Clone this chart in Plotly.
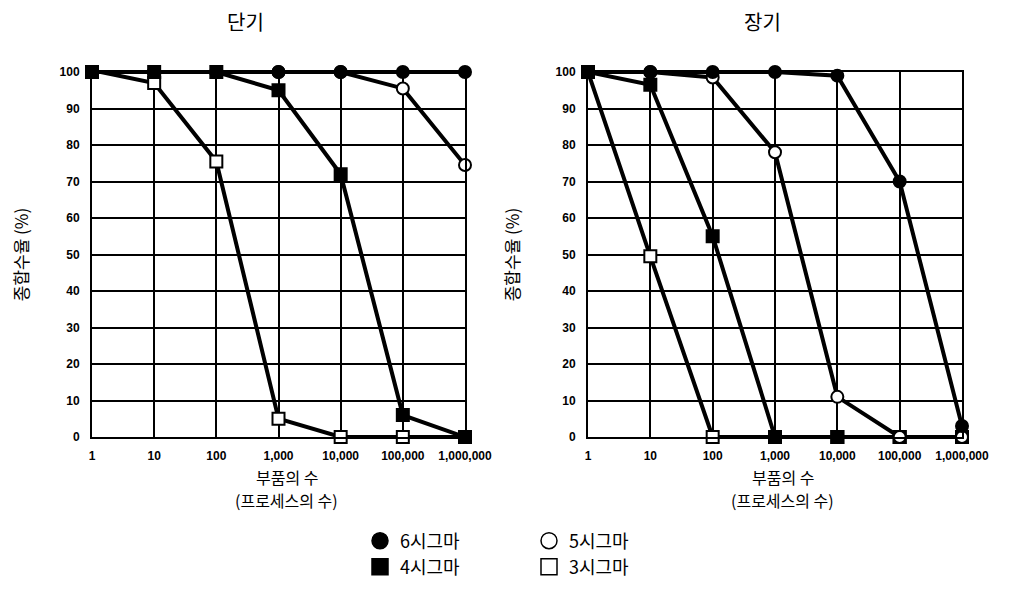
import plotly.graph_objects as go

# ---- data ----
parts = [1, 10, 100, 1000, 10000, 100000, 1000000]
tick_labels = ["1", "10", "100", "1,000", "10,000", "100,000", "1,000,000"]
y_ticks = [0, 10, 20, 30, 40, 50, 60, 70, 80, 90, 100]

series_names = ["6시그마", "5시그마", "4시그마", "3시그마"]

# 단기 (short term)
short_6s = [100, 100, 100, 100, 100, 100, 100]
short_5s = [100, 100, 100, 100, 100, 95.5, 74.5]
short_4s = [100, 100, 100, 95, 72, 6, 0]
short_3s = [100.5, 97, 75.5, 5, 0, 0, 0]

# 장기 (long term)
long_6s = [100, 100, 100, 100, 99, 70, 3]
long_5s = [100, 100, 98.5, 78, 11, 0, 0]
long_4s = [100, 96.5, 55, 0, 0, 0, 0]
long_3s = [100, 49.5, 0, 0, 0, 0, -0.5]

panel_titles = ["단기", "장기"]
x_title_lines = ["부품의 수", "(프로세스의 수)"]
y_title = "종합수율 (%)"

# ---- style ----
FONT = "Noto Sans CJK KR"
styles = {
    "6시그마": dict(symbol="circle", color="black"),
    "5시그마": dict(symbol="circle", color="white"),
    "4시그마": dict(symbol="square", color="black"),
    "3시그마": dict(symbol="square", color="white"),
}

fig = go.Figure()

panels = [
    ("x", "y", [short_6s, short_5s, short_4s, short_3s]),
    ("x2", "y2", [long_6s, long_5s, long_4s, long_3s]),
]
for xa, ya, vals in panels:
    for name, v in reversed(list(zip(series_names, vals))):
        st = styles[name]
        fig.add_trace(go.Scatter(
            x=parts, y=v, xaxis=xa, yaxis=ya, mode="lines+markers",
            name=name, showlegend=False, cliponaxis=False,
            line=dict(color="black", width=4),
            marker=dict(symbol=st["symbol"], size=12, color=st["color"],
                        line=dict(color="black", width=2)),
        ))

# legend-only entries (marker only)
for i, name in enumerate(series_names):
    st = styles[name]
    fig.add_trace(go.Scatter(
        x=[None], y=[None], mode="markers", name=name,
        legend="legend" if i < 2 else "legend2",
        marker=dict(symbol=st["symbol"], size=17, color=st["color"],
                    line=dict(color="black", width=1.5)),
    ))

W, H = 1019, 615
OX, OY = 8, 8  # page offset of the figure (body margin)


def px(x):
    return (x - OX) / W


def py(y):
    return 1 - (y - OY) / H


xaxis_common = dict(
    type="log", range=[0, 6], tickvals=parts, ticktext=tick_labels,
    showgrid=True, gridcolor="black", gridwidth=2,
    showline=True, linecolor="black", linewidth=2, mirror=True,
    ticks="", ticklabelstandoff=7,
    tickfont=dict(family="Liberation Sans", size=12, color="black", weight="bold"),
    zeroline=False,
)
yaxis_common = dict(
    range=[0, 100], tickvals=y_ticks,
    showgrid=True, gridcolor="black", gridwidth=2,
    showline=True, linecolor="black", linewidth=2, mirror=True,
    ticks="", ticklabelstandoff=8,
    tickfont=dict(family="Liberation Sans", size=12, color="black", weight="bold"),
    title=dict(text=y_title, font=dict(family=FONT, size=17, color="black"), standoff=32),
    zeroline=False,
)

annotations = [
    dict(text=panel_titles[0], x=px(245), y=py(22)),
    dict(text=panel_titles[1], x=px(762), y=py(22)),
]
for cx in (286, 782):
    annotations.append(dict(text=x_title_lines[0], x=px(cx + 1), y=py(477),
                            font=dict(family=FONT, size=16, color="black")))
    annotations.append(dict(text=x_title_lines[1], x=px(cx), y=py(500),
                            font=dict(family=FONT, size=16, color="black")))
for a in annotations:
    a.setdefault("font", dict(family=FONT, size=20, color="black"))
    a.update(xref="paper", yref="paper", showarrow=False, xanchor="center", yanchor="middle")

legend_common = dict(orientation="h", x=px(360), xanchor="left", yanchor="middle",
                     entrywidth=124, font=dict(family=FONT, size=18, color="black"),
                     bgcolor="rgba(0,0,0,0)", itemclick=False)

fig.update_layout(
    width=W, height=H,
    margin=dict(l=0, r=0, t=0, b=0, autoexpand=False),
    paper_bgcolor="white", plot_bgcolor="white",
    xaxis=dict(domain=[px(92), px(465)], anchor="y", **xaxis_common),
    yaxis=dict(domain=[py(437), py(72)], anchor="x", **yaxis_common),
    xaxis2=dict(domain=[px(588), px(962)], anchor="y2", **xaxis_common),
    yaxis2=dict(domain=[py(437), py(72)], anchor="x2", **yaxis_common),
    legend=dict(y=py(541), **legend_common),
    legend2=dict(y=py(567), **legend_common),
    annotations=annotations,
)

fig.write_html("out.html")
